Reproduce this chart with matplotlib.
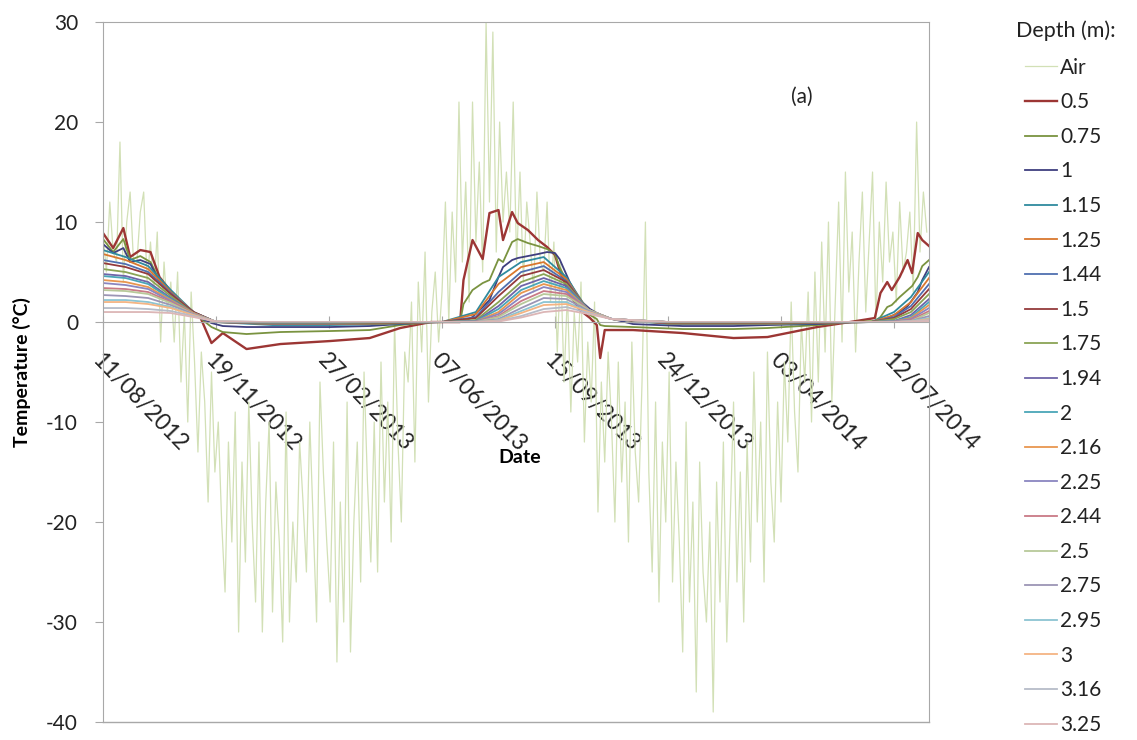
import numpy as np
import pandas as pd
import matplotlib
matplotlib.use('Agg')
import matplotlib.pyplot as plt
import matplotlib.dates as mdates

plt.rcParams['font.family'] = ['Lato', 'DejaVu Sans']
plt.rcParams['axes.unicode_minus'] = False

start = pd.Timestamp('2012-08-11')

# air temperature, one reading every 3 days from 11/08/2012
air_temp = [
    9, 5, 12, 7, 6, 18, 4, 10, 13, 6,
    6, 11, 13, 4, 8, 3, 9, -2, 6, 1,
    4, -2, 5, -6, 1, -10, 3, -4, -13, -3,
    -8, -18, -5, -15, -10, -20, -27, -12, -22, -9,
    -31, -14, -24, -8, -20, -28, -12, -31, -18, -10,
    -29, -16, -22, -32, -9, -30, -20, -26, -12, -18,
    -25, -10, -20, -30, -6, -15, -22, -28, -12, -34,
    -18, -30, -8, -33, -20, -12, -26, -5, -16, -24,
    -10, -25, -4, -18, -8, -22, 0, -12, -20, -3,
    -6, 2, -14, 4, -3, 7, -8, 1, 5, -2,
    3, 12, 0, 11, 4, 22, 6, 14, 2, 22,
    8, 16, 5, 30, 12, 29, 7, 20, 10, 15,
    9, 22, 6, 15, 4, 12, 8, 3, 13, 6,
    5, 12, 2, 8, -3, 6, -6, 3, -9, 1,
    -4, 4, -12, -2, -8, 2, -19, -6, -14, -3,
    -10, -20, -4, -16, -8, -22, -2, -13, -18, -6,
    10, -15, -25, -8, -28, -12, -20, -5, -26, -14,
    -22, -33, -10, -28, -18, -37, -14, -25, -30, -20,
    -39, -16, -28, -12, -32, -20, -8, -26, -15, -30,
    -12, -24, -5, -20, -10, -26, -3, -16, -22, -8,
    -18, -4, -12, 2, -9, -15, 0, -6, 3, -10,
    5, -6, 8, -3, 10, -8, 2, 12, -2, 15,
    3, 9, -3, 6, 13, 1, 8, 15, 0, 10,
    4, 14, 6, 9, 2, 12, 5, 7, 11, 3,
    20, 7, 13, 9,
]
air_day = np.arange(len(air_temp)) * 3

# shallow sensors (days since start)
fine_day = [0, 9, 18, 24, 33, 42, 50, 59, 73, 86,
            96, 106, 127, 157, 201, 236, 263, 290, 316, 319,
            327, 336, 342, 350, 354, 362, 367, 376, 385, 393,
            400, 404, 413, 422, 431, 437, 440, 444, 469, 513,
            558, 588, 632, 661, 683, 688, 694, 698, 705, 712,
            716, 721, 725, 731]
t050 = [8.9, 7.4, 9.4, 6.5, 7.2, 7.0, 4.5, 3.2, 1.6, 0.5,
        -2.1, -1.1, -2.7, -2.2, -1.9, -1.6, -0.6, 0.0, 0.0, 4.2,
        8.2, 6.3, 10.9, 11.2, 8.2, 11.0, 9.9, 9.2, 8.2, 7.5,
        6.7, 5.2, 2.7, 1.2, 0.4, -0.3, -3.6, -0.8, -0.8, -1.1,
        -1.6, -1.5, -0.5, 0.0, 0.4, 2.9, 4.0, 3.2, 4.5, 6.2,
        4.9, 8.9, 8.2, 7.6]
t075 = [8.3, 7.0, 8.3, 6.2, 6.6, 6.0, 4.2, 3.0, 1.5, 0.4,
        -0.5, -1.0, -1.2, -1.0, -0.9, -0.8, -0.3, 0.0, 0.0, 1.8,
        3.2, 3.9, 4.2, 6.3, 6.0, 8.0, 8.3, 7.9, 7.6, 7.3,
        6.8, 5.5, 3.5, 1.7, 0.7, 0.3, -0.3, -0.4, -0.5, -0.7,
        -0.7, -0.6, -0.3, 0.0, 0.1, 0.5, 1.5, 1.7, 2.5, 3.2,
        3.6, 4.5, 5.6, 6.2]
t100 = [7.8, 6.9, 7.4, 6.0, 6.2, 5.8, 4.0, 2.9, 1.4, 0.4,
        -0.1, -0.4, -0.5, -0.5, -0.5, -0.4, -0.2, 0.0, 0.0, 0.0,
        0.5, 1.5, 2.2, 4.5, 5.5, 6.2, 6.4, 6.6, 6.8, 7.0,
        6.9, 6.3, 4.0, 2.2, 1.3, 0.9, 0.7, 0.5, -0.2, -0.4,
        -0.4, -0.3, -0.2, 0.0, 0.0, 0.1, 0.4, 0.6, 1.0, 1.6,
        2.2, 3.0, 4.2, 5.5]

# deeper sensors, sparser readings
coarse_day = [0, 20, 40, 60, 80, 100, 150, 200, 250, 300, 330, 350,
              370, 390, 410, 430, 450, 500, 600, 680, 700, 715, 731]
t115 = [7.2, 6.5, 5.6, 3.2, 1.0, 0.0, -0.3, -0.3, -0.2, 0.0, 1.0, 4.5,
        6.0, 6.5, 4.5, 1.0, 0.3, -0.2, -0.2, 0.0, 1.0, 2.5, 5.0]
t125 = [6.8, 6.2, 5.3, 3.0, 1.0, 0.0, -0.2, -0.2, -0.15, 0.0, 0.8, 3.8,
        5.5, 6.0, 4.3, 1.0, 0.3, -0.15, -0.15, 0.0, 0.7, 2.0, 4.4]
t144 = [6.2, 5.8, 5.0, 2.9, 1.0, 0.0, -0.15, -0.15, -0.1, 0.0, 0.5, 3.0,
        5.0, 5.6, 4.1, 1.1, 0.3, -0.1, -0.1, 0.0, 0.5, 1.6, 3.8]
t150 = [5.9, 5.5, 4.8, 2.8, 1.0, 0.0, -0.1, -0.1, -0.1, 0.0, 0.4, 2.6,
        4.6, 5.2, 4.0, 1.1, 0.3, -0.1, -0.1, 0.0, 0.4, 1.3, 3.3]
t175 = [5.3, 5.0, 4.4, 2.6, 0.9, 0.0, -0.1, -0.1, -0.05, 0.0, 0.2, 2.0,
        4.0, 4.8, 3.8, 1.2, 0.3, -0.05, -0.05, 0.0, 0.3, 1.0, 2.8]
t194 = [4.8, 4.6, 4.0, 2.4, 0.9, 0.0, -0.05, -0.05, 0.0, 0.0, 0.1, 1.6,
        3.6, 4.4, 3.6, 1.2, 0.3, 0.0, 0.0, 0.0, 0.1, 0.7, 2.3]
t200 = [4.6, 4.4, 3.8, 2.3, 0.9, 0.0, 0.0, 0.0, 0.0, 0.0, 0.1, 1.3,
        3.2, 4.1, 3.4, 1.2, 0.3, 0.0, 0.0, 0.0, 0.1, 0.5, 2.0]
t216 = [4.2, 4.0, 3.5, 2.2, 0.9, 0.0, 0.0, 0.0, 0.0, 0.0, 0.05, 1.0,
        2.9, 3.8, 3.2, 1.2, 0.3, 0.0, 0.0, 0.0, 0.05, 0.4, 1.7]
t225 = [3.9, 3.7, 3.3, 2.1, 0.8, 0.0, 0.0, 0.0, 0.0, 0.0, 0.05, 0.8,
        2.5, 3.5, 3.0, 1.2, 0.3, 0.0, 0.0, 0.0, 0.05, 0.3, 1.4]
t244 = [3.4, 3.3, 3.0, 2.0, 0.8, 0.0, 0.0, 0.0, 0.0, 0.0, 0.0, 0.6,
        2.1, 3.1, 2.8, 1.2, 0.3, 0.0, 0.0, 0.0, 0.0, 0.2, 1.1]
t250 = [3.2, 3.1, 2.8, 1.9, 0.8, 0.0, 0.0, 0.0, 0.0, 0.0, 0.0, 0.5,
        1.8, 2.8, 2.6, 1.2, 0.3, 0.0, 0.0, 0.0, 0.0, 0.1, 0.9]
t275 = [2.7, 2.6, 2.4, 1.7, 0.8, 0.05, 0.0, 0.0, 0.0, 0.0, 0.0, 0.3,
        1.4, 2.4, 2.3, 1.1, 0.3, 0.0, 0.0, 0.0, 0.0, 0.1, 0.6]
t295 = [2.2, 2.2, 2.0, 1.5, 0.7, 0.05, 0.0, 0.0, 0.0, 0.0, 0.0, 0.2,
        1.1, 2.0, 2.0, 1.0, 0.3, 0.0, 0.0, 0.0, 0.0, 0.1, 0.4]
t300 = [2.0, 2.0, 1.8, 1.4, 0.7, 0.05, 0.0, 0.0, 0.0, 0.0, 0.0, 0.15,
        0.9, 1.7, 1.8, 1.0, 0.3, 0.0, 0.0, 0.0, 0.0, 0.05, 0.3]
t316 = [1.4, 1.4, 1.3, 1.1, 0.6, 0.05, 0.0, 0.0, 0.0, 0.0, 0.0, 0.1,
        0.6, 1.3, 1.5, 0.9, 0.3, 0.0, 0.0, 0.0, 0.0, 0.05, 0.2]
t325 = [1.0, 1.0, 1.0, 0.9, 0.5, 0.05, 0.0, 0.0, 0.0, 0.0, 0.0, 0.05,
        0.45, 1.0, 1.2, 0.8, 0.3, 0.0, 0.0, 0.0, 0.0, 0.05, 0.1]

depths = ['0.5', '0.75', '1', '1.15', '1.25', '1.44', '1.5', '1.75', '1.94', '2',
          '2.16', '2.25', '2.44', '2.5', '2.75', '2.95', '3', '3.16', '3.25']
temps = [t050, t075, t100, t115, t125, t144, t150, t175, t194, t200,
         t216, t225, t244, t250, t275, t295, t300, t316, t325]
colors = ['#9c3634', '#7a9340', '#3f3f7f', '#2f8a9e', '#d9772e', '#4f6fb0',
          '#943a3c', '#8aa455', '#6e64a8', '#4aa6b8', '#e8964f', '#8a86c0',
          '#c97a86', '#b8c99a', '#9c95b5', '#8cc4d2', '#f4b483', '#b6bcc8',
          '#dcb6b6']

def to_dates(days):
    return start + pd.to_timedelta(np.asarray(days), unit='D')

fig = plt.figure(figsize=(11.37, 7.4), dpi=100)
ax = fig.add_axes([0.0906, 0.0243, 0.7265, 0.9459])

ax.plot(to_dates(air_day), air_temp, color='#d2e0b6', lw=0.9, label='Air')
for i, (d, t, c) in enumerate(zip(depths, temps, colors)):
    days = fine_day if i < 3 else coarse_day
    ax.plot(to_dates(days), t, color=c, lw=1.7 if i == 0 else 1.3, label=d)

ax.set_xlim(start, start + pd.Timedelta(days=731))
ax.set_ylim(-40, 30)
ax.set_yticks(range(-40, 31, 10))
ax.set_xticks(to_dates([0, 100, 200, 300, 400, 500, 600, 700]))
ax.xaxis.set_major_formatter(mdates.DateFormatter('%d/%m/%Y'))

grey = '#a8a8a8'
for s in ['top', 'right', 'left']:
    ax.spines[s].set_color(grey)
ax.spines['bottom'].set_position(('data', 0))
ax.spines['bottom'].set_color(grey)
ax.plot([0, 1], [0, 0], transform=ax.transAxes, color=grey, lw=1, clip_on=False)

ax.tick_params(axis='y', length=6, color=grey, pad=12, labelsize=15, labelcolor='#222222')
ax.tick_params(axis='x', direction='inout', length=8, color=grey, pad=16,
               labelsize=16.5, labelcolor='#222222')
for lab in ax.get_xticklabels():
    lab.set_rotation(-46)
    lab.set_ha('left')
    lab.set_va('top')
    lab.set_rotation_mode('anchor')

ax.set_xlabel('Date', fontsize=14, fontweight='bold')
ax.xaxis.set_label_coords(0.504, 0.39)
ax.set_ylabel('Temperature (°C)', fontsize=14, fontweight='bold')
ax.yaxis.set_label_coords(-0.087, 0.5)

ax.text(0.846, 0.893, '(a)', transform=ax.transAxes, fontsize=15,
        ha='center', va='center', color='#222222')

# legend title set as its own text so the gap above the first entry is free
fig.text(0.937, 0.959, 'Depth (m):', fontsize=15.5, ha='center', va='center',
         color='#222222')
fig.legend(loc='upper left', bbox_to_anchor=(0.9015, 0.922), frameon=False,
           fontsize=15, handlelength=1.55, handletextpad=0.15, labelspacing=0.70,
           borderpad=0, borderaxespad=0, labelcolor='#222222')

fig.savefig('out.png', dpi=100, facecolor='white')
